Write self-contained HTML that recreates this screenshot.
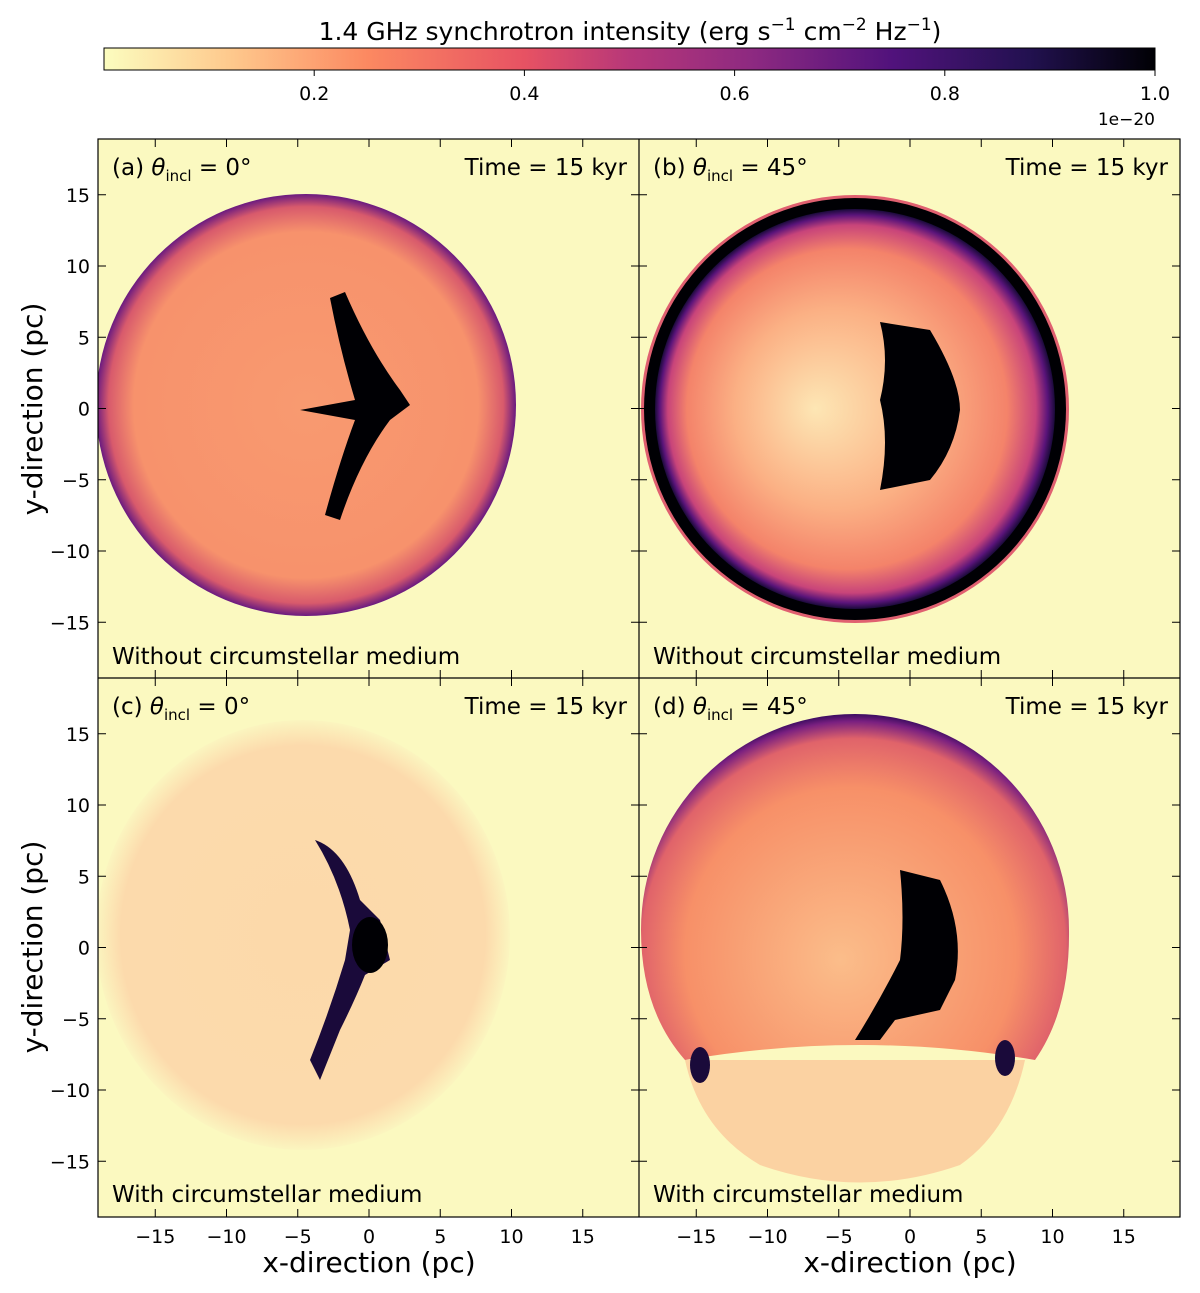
<!DOCTYPE html>
<html><head><meta charset="utf-8">
<style>
html,body{margin:0;padding:0;background:#fff;}
svg{display:block;font-family:"DejaVu Sans","Liberation Sans",sans-serif;}
</style></head>
<body>
<svg id="fig" width="1200" height="1293" viewBox="0 0 1200 1293" xmlns="http://www.w3.org/2000/svg">
<defs>
  <linearGradient id="cbar" x1="0" x2="1" y1="0" y2="0">
    <stop offset="0" stop-color="#fcfdbf"/>
    <stop offset="0.12" stop-color="#fec98d"/>
    <stop offset="0.25" stop-color="#fc8961"/>
    <stop offset="0.4" stop-color="#e75263"/>
    <stop offset="0.5" stop-color="#b73779"/>
    <stop offset="0.62" stop-color="#8c2981"/>
    <stop offset="0.75" stop-color="#51127c"/>
    <stop offset="0.88" stop-color="#221150"/>
    <stop offset="1" stop-color="#000004"/>
  </linearGradient>
  <radialGradient id="ga" cx="0.5" cy="0.5" r="0.5">
    <stop offset="0" stop-color="#f89a70"/>
    <stop offset="0.82" stop-color="#f7926c"/>
    <stop offset="0.94" stop-color="#d85a6c"/>
    <stop offset="1" stop-color="#6a1a80"/>
  </radialGradient>
  <radialGradient id="gb" cx="0.5" cy="0.5" r="0.5" fx="0.4" fy="0.5">
    <stop offset="0" stop-color="#fde6b4"/>
    <stop offset="0.5" stop-color="#fbb084"/>
    <stop offset="0.8" stop-color="#f4836a"/>
    <stop offset="0.92" stop-color="#c8447a"/>
    <stop offset="0.97" stop-color="#5a147a"/>
    <stop offset="1" stop-color="#1a0a3a"/>
  </radialGradient>
  <radialGradient id="gc" cx="0.5" cy="0.5" r="0.5">
    <stop offset="0" stop-color="#fcd9aa"/>
    <stop offset="0.88" stop-color="#fcdaac"/>
    <stop offset="1" stop-color="#fbf5bf"/>
  </radialGradient>
  <radialGradient id="gd" gradientUnits="userSpaceOnUse" cx="855" cy="950" r="236" fx="840" fy="960">
    <stop offset="0" stop-color="#fbbd8a"/>
    <stop offset="0.7" stop-color="#f79068"/>
    <stop offset="0.9" stop-color="#e0636a"/>
    <stop offset="0.97" stop-color="#7a2080"/>
    <stop offset="1" stop-color="#3a0c60"/>
  </radialGradient>
  <clipPath id="cpA"><rect x="98" y="139" width="541" height="539"/></clipPath>
  <clipPath id="cpB"><rect x="639" y="139" width="541" height="539"/></clipPath>
  <clipPath id="cpC"><rect x="98" y="678" width="541" height="539"/></clipPath>
  <clipPath id="cpD"><rect x="639" y="678" width="541" height="539"/></clipPath>
</defs>

<text x="630" y="40" font-size="25" text-anchor="middle">1.4 GHz synchrotron intensity (erg s<tspan font-size="17" dy="-10">−1</tspan><tspan dy="10"> cm</tspan><tspan font-size="17" dy="-10">−2</tspan><tspan dy="10"> Hz</tspan><tspan font-size="17" dy="-10">−1</tspan><tspan dy="10">)</tspan></text>
<rect x="104" y="48" width="1051" height="22" fill="url(#cbar)" stroke="#000" stroke-width="1"/>
<g id="cbticks"></g>
<text x="1155" y="125" font-size="17" text-anchor="end">1e−20</text>

<g>
  <rect x="98" y="139" width="541" height="539" fill="#fbf9c0"/>
  <g clip-path="url(#cpA)">
    <ellipse cx="306" cy="405" rx="210" ry="211" fill="url(#ga)"/>
    <path d="M330,298 L345,292 Q370,350 400,390 L410,405 L390,420 Q360,460 340,520 L325,515 Q340,460 355,420 L300,410 L355,400 Q340,350 330,298Z" fill="#000004"/>
  </g>
  <text x="112" y="175" font-size="23">(a) <tspan font-style="italic">θ</tspan><tspan font-size="15" dy="6">incl</tspan><tspan dy="-6"> = 0°</tspan></text>
  <text x="627" y="175" font-size="23" text-anchor="end">Time = 15 kyr</text>
  <text x="112" y="664" font-size="23">Without circumstellar medium</text>
</g>
<g>
  <rect x="639" y="139" width="541" height="539" fill="#fbf9c0"/>
  <g clip-path="url(#cpB)">
    <circle cx="855" cy="409" r="214" fill="#e06070"/>
    <circle cx="855" cy="409" r="211" fill="#000004"/>
    <circle cx="855" cy="409" r="200" fill="url(#gb)"/>
    <path d="M880,322 L930,330 Q960,380 960,410 Q955,450 930,480 L880,490 Q890,440 880,400 Q890,360 880,322Z" fill="#000004"/>
  </g>
  <text x="653" y="175" font-size="23">(b) <tspan font-style="italic">θ</tspan><tspan font-size="15" dy="6">incl</tspan><tspan dy="-6"> = 45°</tspan></text>
  <text x="1168" y="175" font-size="23" text-anchor="end">Time = 15 kyr</text>
  <text x="653" y="664" font-size="23">Without circumstellar medium</text>
</g>
<g>
  <rect x="98" y="678" width="541" height="539" fill="#fbf9c0"/>
  <g clip-path="url(#cpC)">
    <ellipse cx="303" cy="935" rx="207" ry="215" fill="url(#gc)"/>
    <path d="M315,840 Q345,850 360,900 L380,920 L390,960 L365,975 Q355,1000 340,1030 L320,1080 L310,1060 Q330,1010 345,960 L350,930 Q340,880 315,840Z" fill="#1a0a3a"/>
    <ellipse cx="370" cy="945" rx="18" ry="28" fill="#000004"/>
  </g>
  <text x="112" y="714" font-size="23">(c) <tspan font-style="italic">θ</tspan><tspan font-size="15" dy="6">incl</tspan><tspan dy="-6"> = 0°</tspan></text>
  <text x="627" y="714" font-size="23" text-anchor="end">Time = 15 kyr</text>
  <text x="112" y="1202" font-size="23">With circumstellar medium</text>
</g>
<g>
  <rect x="639" y="678" width="541" height="539" fill="#fbf9c0"/>
  <g clip-path="url(#cpD)">
    <path d="M685,1060 Q700,1130 760,1165 Q860,1200 960,1165 Q1010,1130 1025,1060Z" fill="#fbd2a2"/>
    <path d="M641,930 A214,216 0 0 1 1069,930 Q1070,1010 1035,1060 Q860,1030 685,1060 Q641,1010 641,930Z" fill="url(#gd)"/>
    <path d="M900,870 L940,880 Q965,930 955,980 L940,1010 L895,1020 L880,1040 L855,1040 Q880,1000 900,960 Q905,920 900,870Z" fill="#000004"/>
    <ellipse cx="700" cy="1065" rx="10" ry="18" fill="#1a0a3a"/>
    <ellipse cx="1005" cy="1058" rx="10" ry="18" fill="#1a0a3a"/>
  </g>
  <text x="653" y="714" font-size="23">(d) <tspan font-style="italic">θ</tspan><tspan font-size="15" dy="6">incl</tspan><tspan dy="-6"> = 45°</tspan></text>
  <text x="1168" y="714" font-size="23" text-anchor="end">Time = 15 kyr</text>
  <text x="653" y="1202" font-size="23">With circumstellar medium</text>
</g>
<g id="axes"></g>
<rect x="98" y="139" width="1082" height="1078" fill="none" stroke="#000" stroke-width="1.2"/>
<line x1="639" y1="139" x2="639" y2="1217" stroke="#000" stroke-width="1.2"/>
<line x1="98" y1="678" x2="1180" y2="678" stroke="#000" stroke-width="1.2"/>
<text x="369" y="1272" font-size="28" text-anchor="middle">x-direction (pc)</text>
<text x="910" y="1272" font-size="28" text-anchor="middle">x-direction (pc)</text>
<text transform="translate(42,409) rotate(-90)" font-size="28" text-anchor="middle">y-direction (pc)</text>
<text transform="translate(42,947) rotate(-90)" font-size="28" text-anchor="middle">y-direction (pc)</text>
</svg>
<script>
const cbTicks=[0.2,0.4,0.6,0.8,1.0];
const xTicks=[-15,-10,-5,0,5,10,15];
const yTicks=[-15,-10,-5,0,5,10,15];
const NS="http://www.w3.org/2000/svg";
function mk(t,a,p){const e=document.createElementNS(NS,t);for(const k in a)e.setAttribute(k,a[k]);p.appendChild(e);return e;}
const cbx=v=>104+v*1051;
const cb=document.getElementById('cbticks');
cbTicks.forEach(v=>{
  const l=mk('line',{x1:cbx(v),x2:cbx(v),y1:70,y2:76,stroke:'#000'},cb);
  
  
  const t=mk('text',{x:cbx(v),y:100,'font-size':19,'text-anchor':'middle'},cb);
  t.textContent=v.toFixed(1);
  
  
});
const ax=document.getElementById('axes');
const pxpc=14.25;
[[369,408.5,98,139],[910,408.5,639,139],[369,947.5,98,678],[910,947.5,639,678]].forEach((p,i)=>{
  const [cx,cy,x0,y0]=p;
  xTicks.forEach(v=>{
    const x=cx+v*pxpc;
    const a=mk('line',{x1:x,x2:x,y1:y0+539,y2:y0+531,stroke:'#000'},ax);
    
    
    const b=mk('line',{x1:x,x2:x,y1:y0,y2:y0+8,stroke:'#000'},ax);
    
    
    if(i>=2){const t=mk('text',{x:x,y:1243,'font-size':19,'text-anchor':'middle'},ax);
      t.textContent=(v<0?'−':'')+Math.abs(v);
      
      }
  });
  yTicks.forEach(v=>{
    const y=cy-v*pxpc;
    const a=mk('line',{x1:x0,x2:x0+8,y1:y,y2:y,stroke:'#000'},ax);
    
    
    const b=mk('line',{x1:x0+541,x2:x0+533,y1:y,y2:y,stroke:'#000'},ax);
    
    
    if(i%2==0){const t=mk('text',{x:90,y:y+7,'font-size':19,'text-anchor':'end'},ax);
      t.textContent=(v<0?'−':'')+Math.abs(v);
      
      }
  });
});
</script>
</body></html>
